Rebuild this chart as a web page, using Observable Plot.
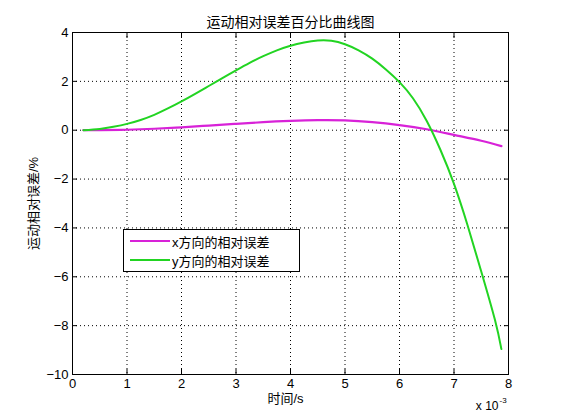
<!DOCTYPE html>
<html>
<head>
<meta charset="utf-8">
<script src="https://cdn.jsdelivr.net/npm/d3@7"></script>
<script src="https://cdn.jsdelivr.net/npm/@observablehq/plot@0.6"></script>
<style>
  html, body { margin: 0; padding: 0; background: #fff; }
  #wrap { position: relative; width: 561px; height: 420px; font-family: "Liberation Sans", "Noto Sans CJK SC", sans-serif; }
  #legend { position: absolute; left: 123px; top: 229px; width: 175px; height: 41px; border: 1px solid #000; background: #fff; font-size: 13px; }
  #legend .row { position: absolute; left: 6px; height: 18px; display: flex; align-items: center; }
  #legend .sw { width: 40px; height: 2px; margin-right: 2px; }
</style>
</head>
<body>
<div id="wrap"></div>
<script>
// time in units of 1e-3 s
const tX = [0.2, 0.5, 1.0, 1.5, 2.0, 2.5, 3.0, 3.5, 4.0, 4.5, 5.0, 5.5, 6.0, 6.5, 7.0, 7.5, 7.87];
const errX = [0, 0.0, 0.02, 0.06, 0.12, 0.19, 0.26, 0.33, 0.38, 0.41, 0.40, 0.33, 0.21, 0.04, -0.19, -0.43, -0.65];
const tY = [0.2, 0.5, 0.75, 1.0, 1.25, 1.5, 1.75, 2.0, 2.25, 2.5, 2.75, 3.0, 3.25, 3.5, 3.75, 4.0, 4.25, 4.5, 4.75, 5.0, 5.25, 5.5, 5.75, 6.0, 6.25, 6.5, 6.75, 7.0, 7.25, 7.5, 7.75, 7.87];
const errY = [0, 0.05, 0.14, 0.26, 0.42, 0.63, 0.89, 1.18, 1.49, 1.81, 2.13, 2.45, 2.76, 3.03, 3.27, 3.46, 3.59, 3.67, 3.66, 3.52, 3.27, 2.93, 2.49, 1.97, 1.30, 0.38, -0.80, -2.20, -3.90, -5.78, -7.75, -8.96];
const xTicks = [0, 1, 2, 3, 4, 5, 6, 7, 8];
const yTicks = [-10, -8, -6, -4, -2, 0, 2, 4];
const seriesNames = ["x方向的相对误差", "y方向的相对误差"];
const seriesColors = ["#d822d8", "#22d422"];
const title = "运动相对误差百分比曲线图";
const xLabel = "时间/s";
const yLabel = "运动相对误差/%";
const scaleBase = "x 10";
const scaleExp = "-3";

const dataX = tX.map((t, i) => ({t, v: errX[i]}));
const dataY = tY.map((t, i) => ({t, v: errY[i]}));

const font = "Liberation Sans, Noto Sans CJK SC, sans-serif";

const chart = Plot.plot({
  width: 561,
  height: 420,
  marginLeft: 72,
  marginRight: 53,
  marginTop: 32,
  marginBottom: 46,
  style: {fontFamily: font, fontSize: "12px", color: "#000", background: "#fff"},
  x: {domain: [0, 8], ticks: xTicks},
  y: {domain: [-10, 4], ticks: yTicks},
  marks: [
    Plot.gridX(xTicks, {stroke: "#000", strokeOpacity: 1, strokeDasharray: "1,3"}),
    Plot.gridY(yTicks, {stroke: "#000", strokeOpacity: 1, strokeDasharray: "1,3"}),
    Plot.line(dataX, {x: "t", y: "v", stroke: seriesColors[0], strokeWidth: 2.2, curve: "natural"}),
    Plot.line(dataY, {x: "t", y: "v", stroke: seriesColors[1], strokeWidth: 2, curve: "natural"}),
    Plot.frame({stroke: "#000", strokeWidth: 1}),
    Plot.axisX(xTicks, {anchor: "bottom", tickSize: -5, tickPadding: 9, fontSize: 13, label: null}),
    Plot.axisX(xTicks, {anchor: "top", tickSize: -5, tickFormat: () => "", label: null}),
    Plot.axisY(yTicks, {anchor: "left", tickSize: -5, tickPadding: 9, fontSize: 13, label: null}),
    Plot.axisY(yTicks, {anchor: "right", tickSize: -5, tickFormat: () => "", label: null}),
    Plot.text([title], {frameAnchor: "top", dy: -15, fontSize: 14, text: d => d}),
    Plot.text([xLabel], {frameAnchor: "bottom", dx: -5, dy: 28, fontSize: 13, text: d => d}),
    Plot.text([yLabel], {frameAnchor: "left", dx: -39, rotate: -90, textAnchor: "middle", fontSize: 13, text: d => d}),
    Plot.text([scaleBase], {frameAnchor: "bottom-right", dx: -10, dy: 35, fontSize: 12, textAnchor: "end", text: d => d}),
    Plot.text([scaleExp], {frameAnchor: "bottom-right", dx: -9, dy: 28, fontSize: 8, textAnchor: "start", text: d => d})
  ]
});

const wrap = document.getElementById("wrap");
wrap.appendChild(chart);

const legend = document.createElement("div");
legend.id = "legend";
seriesNames.forEach((name, i) => {
  const row = document.createElement("div");
  row.className = "row";
  row.style.top = (2 + i * 19) + "px";
  const sw = document.createElement("span");
  sw.className = "sw";
  sw.style.background = seriesColors[i];
  const label = document.createElement("span");
  label.textContent = name;
  row.appendChild(sw);
  row.appendChild(label);
  legend.appendChild(row);
});
wrap.appendChild(legend);
</script>
</body>
</html>
